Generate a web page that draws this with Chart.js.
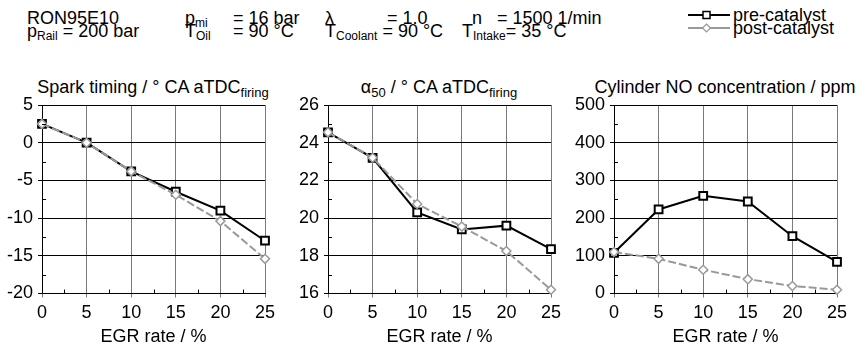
<!DOCTYPE html>
<html>
<head>
<meta charset="utf-8">
<script src="https://cdn.jsdelivr.net/npm/chart.js@4.4.1/dist/chart.umd.min.js"></script>
<style>
  body { margin: 0; background: #fff; font-family: "Liberation Sans", Arial, sans-serif; color: #000; }
  #page { position: relative; width: 861px; height: 346px; overflow: hidden; }
  .t { position: absolute; font-size: 18px; line-height: 18px; white-space: nowrap; }
  .s { position: relative; top: 3px; font-size: 12px; }
  .ttl { position: absolute; width: 300px; text-align: center; font-size: 18px; line-height: 18px; white-space: nowrap; }
  .ttl .s { top: 4px; font-size: 13px; }
  .box { position: absolute; top: 60px; width: 287px; height: 286px; }
</style>
</head>
<body>
<div id="page">
  <!-- Kopfzeile mit Betriebspunkt -->
  <div class="t" style="left:27px; top:9px">RON95E10</div>
  <div class="t" style="left:185px; top:9px">p<span class="s">mi</span></div>
  <div class="t" style="left:233px; top:9px">= 16 bar</div>
  <div class="t" style="left:325px; top:9px">λ</div>
  <div class="t" style="left:387px; top:9px">= 1.0</div>
  <div class="t" style="left:472px; top:9px">n</div>
  <div class="t" style="left:497px; top:9px">= 1500 1/min</div>

  <div class="t" style="left:27px; top:22px">p<span class="s">Rail</span> = 200 bar</div>
  <div class="t" style="left:185px; top:22px">T<span class="s">Oil</span></div>
  <div class="t" style="left:233px; top:22px">= 90 °C</div>
  <div class="t" style="left:325px; top:22px">T<span class="s">Coolant</span> = 90 °C</div>
  <div class="t" style="left:462px; top:22px">T<span class="s">Intake</span>= 35 °C</div>

  <div id="legend"></div>

  <div class="ttl" style="left:3px; top:78px">Spark timing / ° CA aTDC<span class="s">firing</span></div>
  <div class="ttl" style="left:289px; top:78px">α<span class="s">50</span> / ° CA aTDC<span class="s">firing</span></div>
  <div class="ttl" style="left:575px; top:78px">Cylinder NO concentration / ppm</div>

  <div class="box" style="left:0px"><canvas id="c1"></canvas></div>
  <div class="box" style="left:286px"><canvas id="c2"></canvas></div>
  <div class="box" style="left:572px"><canvas id="c3"></canvas></div>
</div>
<script>
// Daten
const egr = [0, 5, 10, 15, 20, 25];
const seriesNames = ['pre-catalyst', 'post-catalyst'];

const sparkPre  = [2.5, 0, -3.8, -6.5, -9.0, -13.0];
const sparkPost = [2.5, 0, -3.8, -6.9, -10.4, -15.4];

const a50Pre  = [24.55, 23.2, 20.3, 19.4, 19.6, 18.35];
const a50Post = [24.55, 23.2, 20.75, 19.55, 18.25, 16.2];

const noPre  = [108, 223, 259, 244, 152, 84];
const noPost = [110, 92, 63, 38, 20, 10];

const font = { family: '"Liberation Sans", Arial, sans-serif', size: 18 };

// kleine Zwischenstriche nach innen
const minorTicks = {
  id: 'minorTicks',
  afterDraw(chart) {
    const ctx = chart.ctx;
    const x = chart.scales.x, y = chart.scales.y;
    const a = chart.chartArea;
    ctx.save();
    ctx.strokeStyle = '#000';
    ctx.lineWidth = 1;
    ctx.beginPath();
    for (let i = 0; i < x.ticks.length - 1; i++) {
      const px = Math.round(x.getPixelForValue((x.ticks[i].value + x.ticks[i + 1].value) / 2)) + 0.5;
      ctx.moveTo(px, a.bottom);
      ctx.lineTo(px, a.bottom - 4);
    }
    for (let i = 0; i < y.ticks.length - 1; i++) {
      const py = Math.round(y.getPixelForValue((y.ticks[i].value + y.ticks[i + 1].value) / 2)) + 0.5;
      ctx.moveTo(a.left, py);
      ctx.lineTo(a.left + 4, py);
    }
    ctx.stroke();
    ctx.restore();
  }
};

function pts(vals) {
  return egr.map((e, i) => ({ x: e, y: vals[i] }));
}

function makeChart(id, pre, post, yMin, yMax, yStep) {
  new Chart(document.getElementById(id), {
    type: 'line',
    data: {
      datasets: [{
        label: seriesNames[0],
        data: pts(pre),
        borderColor: '#000',
        borderWidth: 2,
        pointStyle: 'rect',
        pointRadius: 5.5,
        pointBorderWidth: 2,
        pointBackgroundColor: '#fff',
        pointBorderColor: '#000',
        order: 1,
        clip: false
      }, {
        label: seriesNames[1],
        data: pts(post),
        borderColor: '#999',
        borderWidth: 2,
        borderDash: [8, 3],
        pointStyle: 'rectRot',
        pointRadius: 4.5,
        pointBorderWidth: 1.5,
        pointBackgroundColor: '#fff',
        pointBorderColor: '#999',
        order: 0,
        clip: false
      }]
    },
    options: {
      responsive: false,
      animation: false,
      events: [],
      layout: { padding: { top: 45, right: 22, left: 0, bottom: 0 } },
      plugins: { legend: { display: false }, tooltip: { enabled: false } },
      scales: {
        x: {
          type: 'linear', min: 0, max: 25,
          afterFit(s) { s.height = 52.5; },
          grid: { color: '#7a7a7a', lineWidth: 1, tickLength: 4, tickColor: '#7a7a7a' },
          border: { color: '#000', width: 1 },
          ticks: { stepSize: 5, color: '#000', font: font, padding: 5, maxRotation: 0 },
          title: { display: true, text: 'EGR rate / %', color: '#000', font: font, padding: { top: 0, bottom: -2 } }
        },
        y: {
          min: yMin, max: yMax,
          afterFit(s) { s.width = 42; },
          grid: { color: '#000', lineWidth: 1, tickLength: 4, tickColor: '#000' },
          border: { color: '#000', width: 1 },
          ticks: { stepSize: yStep, color: '#000', font: font, padding: 5, callback: v => String(v) }
        }
      }
    },
    plugins: [minorTicks]
  });
}

function setup(id) {
  const c = document.getElementById(id);
  c.width = 287; c.height = 286;
  c.style.width = '287px'; c.style.height = '286px';
}
['c1', 'c2', 'c3'].forEach(setup);

makeChart('c1', sparkPre, sparkPost, -20, 5, 5);
makeChart('c2', a50Pre, a50Post, 16, 26, 2);
makeChart('c3', noPre, noPost, 0, 500, 100);

// Legende oben rechts
const leg = document.getElementById('legend');
const legStyles = [
  { color: '#000', marker: '<rect x="15" y="3.5" width="7" height="7" fill="#fff" stroke="#000" stroke-width="1.5"/>' },
  { color: '#999', marker: '<path d="M18.5 3 L22.5 7 L18.5 11 L14.5 7 Z" fill="#fff" stroke="#999" stroke-width="1.2"/>' }
];
seriesNames.forEach((name, i) => {
  const top = 6 + i * 13;
  const st = legStyles[i];
  leg.insertAdjacentHTML('beforeend',
    '<svg style="position:absolute; left:688px; top:' + (top + 2) + 'px" width="44" height="14">' +
    '<line x1="0" y1="7" x2="42" y2="7" stroke="' + st.color + '" stroke-width="2"/>' + st.marker + '</svg>' +
    '<div class="t" style="left:733px; top:' + top + 'px">' + name + '</div>');
});
</script>
</body>
</html>
